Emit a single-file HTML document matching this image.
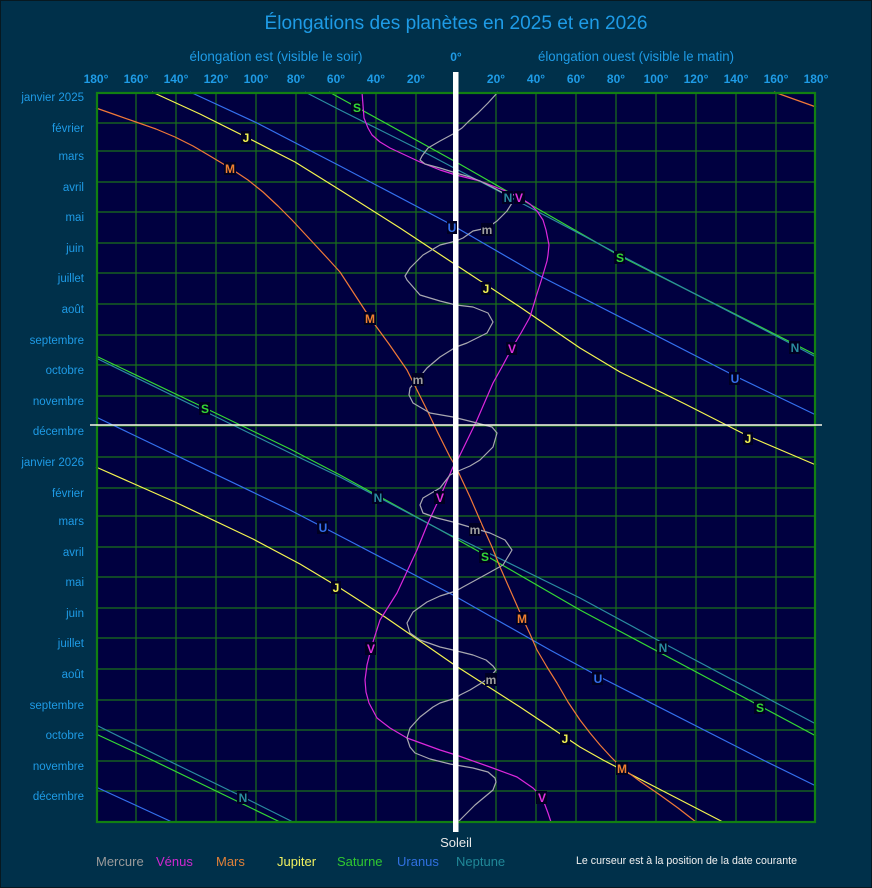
<!DOCTYPE html>
<html><head><meta charset="utf-8"><style>
html,body{margin:0;padding:0;background:#00304a;}
svg{display:block;}
text{font-family:"Liberation Sans",Arial,sans-serif;}
.tk{font-size:12px;font-weight:bold;fill:#1e9be6;text-anchor:middle;}
.mo{font-size:11.5px;fill:#1e9be6;text-anchor:end;}
.lb{font-size:12px;font-weight:bold;text-anchor:middle;}
.ln{fill:none;stroke-width:1.2;stroke-linejoin:round;}
</style></head><body>
<svg width="872" height="888" viewBox="0 0 872 888" xmlns="http://www.w3.org/2000/svg">
<rect x="0" y="0" width="872" height="888" fill="#00304a"/>
<rect x="0.5" y="0.5" width="871" height="887" fill="none" stroke="#071820" stroke-width="1"/>
<text x="456" y="29" font-size="19" fill="#1e9be6" text-anchor="middle" textLength="383" lengthAdjust="spacingAndGlyphs">Élongations des planètes en 2025 et en 2026</text>
<text x="276" y="61" font-size="14" fill="#1e9be6" text-anchor="middle" textLength="173" lengthAdjust="spacingAndGlyphs">élongation est (visible le soir)</text>
<text x="456" y="61" font-size="12" font-weight="bold" fill="#1e9be6" text-anchor="middle">0°</text>
<text x="636" y="61" font-size="14" fill="#1e9be6" text-anchor="middle" textLength="196" lengthAdjust="spacingAndGlyphs">élongation ouest (visible le matin)</text>
<g class="tk">
<text x="96" y="83">180°</text><text x="136" y="83">160°</text><text x="176" y="83">140°</text><text x="216" y="83">120°</text><text x="256" y="83">100°</text><text x="296" y="83">80°</text><text x="336" y="83">60°</text><text x="376" y="83">40°</text><text x="416" y="83">20°</text>
<text x="496" y="83">20°</text><text x="536" y="83">40°</text><text x="576" y="83">60°</text><text x="616" y="83">80°</text><text x="656" y="83">100°</text><text x="696" y="83">120°</text><text x="736" y="83">140°</text><text x="776" y="83">160°</text><text x="816" y="83">180°</text>
</g>
<g class="mo">
<text x="84" y="101">janvier 2025</text><text x="84" y="132">février</text><text x="84" y="160">mars</text><text x="84" y="191">avril</text><text x="84" y="221">mai</text><text x="84" y="252">juin</text><text x="84" y="282">juillet</text><text x="84" y="313">août</text><text x="84" y="344">septembre</text><text x="84" y="374">octobre</text><text x="84" y="405">novembre</text><text x="84" y="435">décembre</text>
<text x="84" y="466">janvier 2026</text><text x="84" y="497">février</text><text x="84" y="525">mars</text><text x="84" y="556">avril</text><text x="84" y="586">mai</text><text x="84" y="617">juin</text><text x="84" y="647">juillet</text><text x="84" y="678">août</text><text x="84" y="709">septembre</text><text x="84" y="739">octobre</text><text x="84" y="770">novembre</text><text x="84" y="800">décembre</text>
</g>
<!-- plot -->
<rect x="96" y="92" width="720" height="730" fill="#000040"/>
<g stroke="#1a721a" stroke-width="1.2">
<line x1="136" y1="92" x2="136" y2="822"/><line x1="176" y1="92" x2="176" y2="822"/><line x1="216" y1="92" x2="216" y2="822"/><line x1="256" y1="92" x2="256" y2="822"/><line x1="296" y1="92" x2="296" y2="822"/><line x1="336" y1="92" x2="336" y2="822"/><line x1="376" y1="92" x2="376" y2="822"/><line x1="416" y1="92" x2="416" y2="822"/><line x1="456" y1="92" x2="456" y2="822"/><line x1="496" y1="92" x2="496" y2="822"/><line x1="536" y1="92" x2="536" y2="822"/><line x1="576" y1="92" x2="576" y2="822"/><line x1="616" y1="92" x2="616" y2="822"/><line x1="656" y1="92" x2="656" y2="822"/><line x1="696" y1="92" x2="696" y2="822"/><line x1="736" y1="92" x2="736" y2="822"/><line x1="776" y1="92" x2="776" y2="822"/>
<line x1="96" y1="123" x2="816" y2="123"/><line x1="96" y1="151" x2="816" y2="151"/><line x1="96" y1="182" x2="816" y2="182"/><line x1="96" y1="212" x2="816" y2="212"/><line x1="96" y1="243" x2="816" y2="243"/><line x1="96" y1="273" x2="816" y2="273"/><line x1="96" y1="304" x2="816" y2="304"/><line x1="96" y1="335" x2="816" y2="335"/><line x1="96" y1="365" x2="816" y2="365"/><line x1="96" y1="396" x2="816" y2="396"/><line x1="96" y1="426" x2="816" y2="426"/><line x1="96" y1="457" x2="816" y2="457"/><line x1="96" y1="488" x2="816" y2="488"/><line x1="96" y1="516" x2="816" y2="516"/><line x1="96" y1="547" x2="816" y2="547"/><line x1="96" y1="577" x2="816" y2="577"/><line x1="96" y1="608" x2="816" y2="608"/><line x1="96" y1="638" x2="816" y2="638"/><line x1="96" y1="669" x2="816" y2="669"/><line x1="96" y1="700" x2="816" y2="700"/><line x1="96" y1="730" x2="816" y2="730"/><line x1="96" y1="761" x2="816" y2="761"/><line x1="96" y1="791" x2="816" y2="791"/>
</g>
<!-- Saturn -->
<g class="ln" stroke="#34d834">
<polyline points="329,92 340,98 456,162 580,233 620,256 816,355"/>
<polyline points="96,356 205,408 290,449 340,475 453,537 460,541 485,555 580,610 760,706 816,736"/>
<polyline points="96,734 152,760 280,822"/>
</g>
<!-- Neptune -->
<g class="ln" stroke="#2a8ca0">
<polyline points="305,92 340,110 422,151 456,169 508,196 620,255 780,338 816,357"/>
<polyline points="96,358 290,453 340,477 450,535 460,539 580,598 663,643 816,724"/>
<polyline points="96,725 167,760 243,797 293,822"/>
</g>
<!-- Uranus -->
<g class="ln" stroke="#3470ee">
<polyline points="190,92 257,123 340,166 452,225 540,276 735,376 816,415"/>
<polyline points="96,417 290,510 340,536 453,595 460,599 550,650 598,676 763,760 816,786"/>
<polyline points="96,787 172,822"/>
</g>
<!-- Jupiter -->
<g class="ln" stroke="#f4f450">
<polyline points="152,92 200,114 246,137 295,162 340,190 400,228 456,265 520,307 580,348 620,372 685,404 748,436 816,465"/>
<polyline points="96,467 175,502 253,539 300,564 340,588 385,617 430,648 456,666 520,707 580,747 603,760 663,791 723,822"/>
</g>
<!-- Mars -->
<g class="ln" stroke="#f07838">
<polyline points="774,92 816,107"/>
<polyline points="96,108 116,115 136,122 156,129 175,137 193,146 210,156 230,168 248,180 263,192 278,206 292,220 305,234 318,248 330,261 340,272 355,295 370,318 389,344 407,370 417,390 427,410 438,433 450,457 456,467 470,497 483,527 492,547 500,567 511,592 522,617 530,634 537,650 547,667 557,683 568,702 580,720 590,733 600,745 611,757 622,768 641,782 660,795 678,808 696,822"/>
</g>
<!-- Venus -->
<g class="ln" stroke="#dc28dc">
<polyline points="362,92 363,105 364,118 368,128 372,135 380,142 390,148 405,155 420,162 440,170 456,175 480,181 503,190 519,197 530,204 537,211 543,220 546,230 549,245 548,255 547,261 542,278 536,297 530,317 521,333 512,348 503,365 493,383 477,420 460,455 456,463 453,467 440,497 428,523 417,550 397,593 380,620 372,645 367,665 365,680 366,692 369,703 377,718 390,728 407,738 440,750 456,755 490,767 517,777 533,788 542,797 548,813 551,822"/>
</g>
<!-- Mercury -->
<g class="ln" stroke="#a8a8b0" stroke-width="1">
<polyline points="498,92 488,103 478,113 468,122 462,128 453,134 440,141 428,148 422,156 420,160 425,164 440,168 456,173 470,177 480,181 494,188 507,195 512,203 507,211 497,221 487,228 473,231 463,238 456,241 440,245 423,255 410,268 405,276 407,280 420,295 440,301 456,305 473,307 488,313 493,322 487,333 467,343 456,347 440,357 427,368 418,379 410,388 409,395 413,403 430,413 453,417 473,422 492,427 497,433 493,447 480,460 470,466 456,472 450,475 440,488 423,498 420,505 423,513 437,518 453,522 473,528 490,533 505,540 512,550 503,565 485,575 463,587 456,591 440,596 427,602 413,612 407,623 410,633 420,640 440,647 453,650 473,655 486,660 493,666 496,670 490,677 483,682 470,690 460,695 456,698 440,703 433,707 420,717 410,728 407,738 410,747 415,753 430,759 450,764 473,768 488,772 495,778 496,782 493,790 487,795 475,805 465,815 458,822"/>
</g>
<!-- border -->
<rect x="97" y="93" width="718" height="729" fill="none" stroke="#128012" stroke-width="2.2"/>
<!-- cursor line -->
<line x1="90" y1="425" x2="822" y2="425" stroke="#f8f8e8" stroke-width="1.6"/>
<!-- sun -->
<rect x="453" y="72" width="5.5" height="760" fill="#ffffff"/>
<text x="456" y="847" font-size="13" fill="#e8e8e8" text-anchor="middle">Soleil</text>
<!-- labels -->
<g class="lb">
<g fill="#000022">
<rect x="351" y="101" width="11" height="13"/><rect x="614" y="251" width="11" height="13"/><rect x="199" y="402" width="11" height="13"/><rect x="479" y="550" width="11" height="13"/><rect x="754" y="701" width="11" height="13"/>
<rect x="502" y="191" width="11" height="13"/><rect x="789" y="341" width="11" height="13"/><rect x="372" y="491" width="11" height="13"/><rect x="657" y="641" width="11" height="13"/><rect x="237" y="791" width="11" height="13"/>
<rect x="514" y="191" width="11" height="13"/><rect x="506" y="342" width="11" height="13"/><rect x="434" y="491" width="11" height="13"/><rect x="365" y="642" width="11" height="13"/><rect x="536" y="791" width="11" height="13"/>
<rect x="481" y="223" width="12" height="13"/><rect x="412" y="373" width="12" height="13"/><rect x="469" y="523" width="12" height="13"/><rect x="485" y="673" width="12" height="13"/>
<rect x="447" y="221" width="10" height="13"/><rect x="729" y="372" width="11" height="13"/><rect x="317" y="521" width="11" height="13"/><rect x="592" y="672" width="11" height="13"/>
<rect x="241" y="131" width="10" height="13"/><rect x="481" y="282" width="10" height="13"/><rect x="743" y="432" width="10" height="13"/><rect x="331" y="581" width="10" height="13"/><rect x="560" y="732" width="10" height="13"/>
<rect x="224" y="162" width="12" height="13"/><rect x="364" y="312" width="12" height="13"/><rect x="516" y="612" width="12" height="13"/><rect x="616" y="762" width="12" height="13"/>
</g>
<g fill="#34d834"><text x="357" y="112">S</text><text x="620" y="262">S</text><text x="205" y="413">S</text><text x="485" y="561">S</text><text x="760" y="712">S</text></g>
<g fill="#2a8ca0"><text x="508" y="202">N</text><text x="795" y="352">N</text><text x="378" y="502">N</text><text x="663" y="652">N</text><text x="243" y="802">N</text></g>
<g fill="#e030e0"><text x="519" y="202">V</text><text x="512" y="353">V</text><text x="440" y="502">V</text><text x="371" y="653">V</text><text x="542" y="802">V</text></g>
<g fill="#a0a0a0"><text x="487" y="234">m</text><text x="418" y="384">m</text><text x="475" y="534">m</text><text x="491" y="684">m</text></g>
<g fill="#3470ee"><text x="452" y="232">U</text><text x="735" y="383">U</text><text x="323" y="532">U</text><text x="598" y="683">U</text></g>
<g fill="#f4f450"><text x="246" y="142">J</text><text x="486" y="293">J</text><text x="748" y="443">J</text><text x="336" y="592">J</text><text x="565" y="743">J</text></g>
<g fill="#f08030"><text x="230" y="173">M</text><text x="370" y="323">M</text><text x="522" y="623">M</text><text x="622" y="773">M</text></g>
</g>
<!-- legend -->
<g font-size="13">
<text x="96" y="866" fill="#9a9a9a">Mercure</text>
<text x="156" y="866" fill="#d028d0">Vénus</text>
<text x="216" y="866" fill="#e08038">Mars</text>
<text x="277" y="866" fill="#f0f060">Jupiter</text>
<text x="337" y="866" fill="#30c830">Saturne</text>
<text x="397" y="866" fill="#3070e0">Uranus</text>
<text x="456" y="866" fill="#208898">Neptune</text>
</g>
<text x="576" y="864" font-size="11" fill="#f0f0f0" textLength="221" lengthAdjust="spacingAndGlyphs">Le curseur est à la position de la date courante</text>
</svg>
</body></html>
